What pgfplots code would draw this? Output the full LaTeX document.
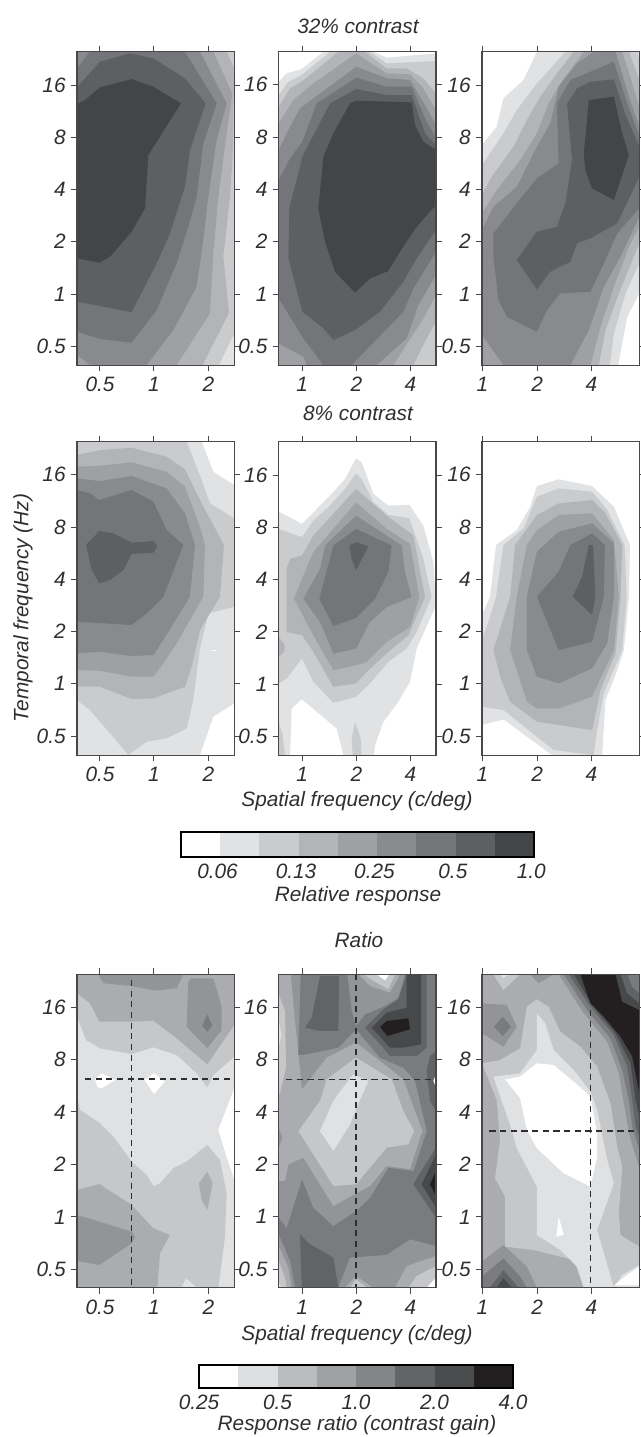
\documentclass[border=0pt]{standalone}
\usepackage{fontspec}
\setmainfont{Liberation Sans}
\usepackage{pgfplots}
\pgfplotsset{compat=1.18}
\definecolor{A1}{HTML}{FFFFFF}\definecolor{A2}{HTML}{E1E2E4}\definecolor{A3}{HTML}{CACBCD}
\definecolor{A4}{HTML}{B2B4B7}\definecolor{A5}{HTML}{9FA0A3}\definecolor{A6}{HTML}{898A8D}
\definecolor{A7}{HTML}{747578}\definecolor{A8}{HTML}{5E5F61}\definecolor{A9}{HTML}{444547}
\definecolor{R2}{HTML}{E0E1E3}\definecolor{R3}{HTML}{C6C7C9}\definecolor{R4}{HTML}{ABACAF}
\definecolor{R5}{HTML}{939497}\definecolor{R6}{HTML}{7A7B7E}\definecolor{R7}{HTML}{626365}
\definecolor{R8}{HTML}{47484A}\definecolor{R9}{HTML}{231F20}
\definecolor{B2}{HTML}{DDDEDF}\definecolor{B3}{HTML}{BBBCBF}\definecolor{B4}{HTML}{9FA1A4}
\definecolor{B5}{HTML}{838588}\definecolor{B6}{HTML}{636467}\definecolor{B7}{HTML}{4A4C4E}
\definecolor{ink}{HTML}{2E2E30}\definecolor{frame}{HTML}{48484A}
\newcommand{\F}[2]{\addplot[fill=#1,draw=none,forget plot] coordinates {#2} --cycle;}
\newcommand{\D}[1]{\addplot[ink,line width=0.9pt,dash pattern=on 4.6pt off 3.4pt,forget plot] coordinates {#1};}
\newcommand{\tf}{\itshape\fontsize{15.6}{18}\selectfont}
\pgfplotsset{
 pos/.style 2 args={at={({#1*0.75pt},{-#2*0.75pt})},anchor=north west},
 pan/.style={scale only axis,width=117.98pt,height=235pt,y dir=reverse,axis on top,
  tick align=outside,major tick length=4.5pt,
  xticklabel pos=lower,yticklabel pos=left,
  tick style={frame,line width=0.75pt},
  axis line style={frame,line width=0.8pt},
  tick label style={font=\tf,text=ink},
  yticklabels={16,8,4,2,1,0.5},
  yticklabel style={xshift=-0.5pt},
  xticklabel style={yshift=-1pt}},
 c1/.style={xmin=231,xmax=703,xtick={300,462,625},xticklabels={0.5,1,2}},
 c2/.style={xmin=26,xmax=498,xtick={96,259,421},xticklabels={1,2,4}},
 c3/.style={xmin=486,xmax=956,xtick={487,651,813},xticklabels={1,2,4}},
}
\begin{document}
\begin{tikzpicture}
\path[use as bounding box] (0,0) rectangle (480.75pt,-1077.75pt);
% ---------- row 1
\begin{axis}[pan,c1,pos={77}{51.7},ymin=155,ymax=1095,ytick={255,411,568,725,883,1040}]
\F{A2}{(231,155)(703,155)(703,1095)(231,1095)}
\F{A3}{(231,155)(703,155)(703,1000)(657,1095)(231,1095)}
\F{A4}{(231,155)(680,155)(703,205)(698,470)(690,590)(670,770)(687,938)(608,1095)(231,1095)}
\F{A5}{(231,155)(640,155)(697,280)(680,400)(655,590)(640,760)(630,940)(530,1095)(231,1095)}
\F{A6}{(231,155)(600,155)(680,310)(650,420)(625,590)(610,720)(590,860)(520,990)(440,1095)(270,1095)(231,1065)}
\F{A7}{(231,205)(270,155)(555,155)(650,310)(610,430)(590,590)(565,680)(530,790)(470,930)(395,1028)(300,1017)(231,995)}
\F{A8}{(231,262)(300,185)(390,160)(460,175)(555,235)(617,310)(570,450)(555,560)(510,700)(470,790)(395,936)(300,918)(231,905)}
\F{A9}{(231,312)(255,300)(300,262)(395,237)(460,260)(543,310)(445,465)(435,625)(395,695)(330,770)(298,788)(231,775)}
\end{axis}
\begin{axis}[pan,c2,pos={278.7}{51.7},ymin=20,ymax=960,ytick={119,276,433,590,747,905}]
\F{A1}{(26,20)(498,20)(498,960)(26,960)}
\F{A2}{(26,110)(50,85)(95,72)(160,20)(310,20)(350,38)(498,25)(498,960)(26,960)}
\F{A3}{(26,150)(55,110)(95,90)(180,20)(300,20)(350,55)(498,48)(498,960)(26,960)}
\F{A4}{(26,185)(60,130)(95,110)(205,20)(285,20)(350,70)(410,70)(460,100)(498,145)(498,830)(470,880)(430,960)(26,960)}
\F{A5}{(26,235)(70,165)(130,115)(259,25)(350,85)(420,88)(460,130)(498,195)(498,750)(460,820)(370,960)(26,960)}
\F{A6}{(26,315)(50,265)(90,190)(259,65)(350,100)(420,105)(465,180)(498,240)(498,690)(445,780)(410,880)(320,960)(110,960)(100,935)(26,895)}
\F{A7}{(26,405)(60,340)(97,290)(140,175)(259,98)(350,125)(425,125)(465,220)(498,280)(498,620)(430,730)(400,800)(245,960)(160,960)(100,880)(26,760)}
\F{A8}{(58,490)(97,335)(180,175)(259,132)(350,150)(425,150)(465,265)(498,300)(498,555)(440,640)(400,710)(330,800)(255,855)(190,885)(160,850)(97,800)(55,640)}
\F{A9}{(145,490)(160,335)(190,265)(240,175)(259,167)(425,172)(435,240)(460,290)(498,315)(498,480)(440,545)(390,620)(355,678)(300,700)(255,743)(195,680)(165,590)}
\end{axis}
\begin{axis}[pan,c3,pos={482}{51.7},ymin=155,ymax=1095,ytick={255,411,568,725,883,1040}]
\F{A1}{(486,155)(956,155)(956,1095)(486,1095)}
\F{A2}{(486,435)(530,380)(550,295)(610,240)(650,155)(956,155)(956,880)(920,950)(893,1095)(486,1095)}
\F{A3}{(486,495)(550,400)(590,330)(650,250)(700,195)(735,155)(950,155)(956,180)(956,790)(915,880)(880,1000)(868,1095)(486,1095)}
\F{A4}{(486,585)(515,530)(580,440)(620,360)(660,290)(710,220)(760,155)(925,155)(956,240)(956,730)(895,880)(855,990)(835,1095)(486,1095)}
\F{A5}{(486,640)(530,570)(600,480)(650,400)(685,310)(720,250)(790,155)(905,155)(935,250)(956,320)(956,680)(925,740)(880,860)(840,980)(810,1095)(486,1095)}
\F{A6}{(486,690)(520,620)(590,560)(650,440)(690,370)(715,260)(770,190)(820,155)(885,155)(925,290)(956,380)(956,650)(900,770)(850,860)(805,990)(750,1095)(550,1095)(486,1005)}
\F{A7}{(520,700)(590,610)(650,535)(715,490)(710,310)(750,240)(810,215)(880,185)(920,310)(956,410)(956,625)(890,700)(850,790)(810,875)(720,880)(680,930)(650,995)(560,950)(535,900)(520,770)}
\F{A8}{(590,780)(650,695)(710,680)(735,610)(755,480)(740,310)(770,265)(810,245)(880,238)(915,345)(956,440)(956,530)(890,670)(810,715)(770,730)(750,785)(690,815)(650,868)}
\F{A9}{(790,465)(805,300)(880,290)(905,400)(925,465)(880,600)(815,565)(795,510)}
\end{axis}
% ---------- row 2
\begin{axis}[pan,c1,pos={77}{441.7},ymin=125,ymax=1065,ytick={224,381,537,694,851,1008}]
\F{A1}{(231,125)(703,125)(703,1065)(231,1065)}
\F{A2}{(231,125)(605,125)(640,215)(703,255)(703,910)(640,950)(600,1065)(231,1065)}
\F{A3}{(231,125)(560,125)(605,240)(630,310)(703,355)(703,620)(625,640)(600,745)(580,900)(560,985)(500,1015)(440,1025)(385,1065)(330,1000)(270,930)(231,900)}
\F{A4}{(231,165)(300,150)(395,143)(500,170)(555,208)(605,310)(672,435)(660,590)(600,690)(575,800)(555,860)(460,895)(395,897)(300,860)(231,860)}
\F{A5}{(231,200)(300,197)(395,187)(500,215)(555,260)(600,380)(615,435)(610,590)(530,730)(490,790)(460,830)(395,830)(300,812)(231,810)}
\F{A6}{(231,235)(300,243)(395,228)(500,265)(555,340)(585,435)(570,590)(490,720)(460,765)(395,768)(300,755)(231,760)}
\F{A7}{(231,270)(270,280)(298,300)(395,270)(460,305)(500,390)(550,435)(490,590)(440,640)(395,675)(231,665)}
\F{A8}{(258,435)(298,393)(340,400)(395,428)(460,423)(472,437)(460,458)(395,462)(370,510)(330,540)(298,550)(275,510)}
\F{A1}{(636,750)(648,750)(648,752)(636,752)}
\end{axis}
\begin{axis}[pan,c2,pos={278.7}{441.7},ymin=18,ymax=960,ytick={119,276,433,590,747,905}]
\F{A2}{(26,228)(96,265)(175,185)(225,130)(258,68)(275,80)(310,175)(355,210)(418,208)(460,270)(490,380)(498,510)(440,640)(420,740)(385,800)(340,860)(315,930)(312,960)(220,960)(200,880)(95,792)(65,820)(60,960)(26,960)}
\F{A3}{(26,280)(96,305)(130,255)(175,215)(225,160)(258,113)(275,130)(310,200)(355,238)(418,248)(460,370)(485,485)(440,590)(410,640)(355,680)(300,745)(258,785)(190,803)(130,740)(96,670)(50,730)(26,745)}
\F{A3}{(26,860)(38,900)(45,960)(26,960)}
\F{A3}{(255,860)(272,910)(275,960)(248,960)(245,910)}
\F{A4}{(50,400)(60,370)(96,360)(130,300)(258,160)(350,240)(430,300)(465,485)(415,600)(355,650)(290,710)(258,745)(190,755)(130,650)(96,600)(50,590)}
\F{A4}{(26,605)(45,630)(42,650)(26,665)}
\F{A5}{(72,490)(100,420)(130,350)(258,200)(350,280)(420,325)(448,485)(420,575)(350,620)(290,680)(258,690)(190,705)(130,600)}
\F{A6}{(100,490)(150,400)(165,330)(258,240)(395,330)(405,410)(425,485)(350,515)(300,560)(258,640)(190,655)(150,560)}
\F{A7}{(148,490)(190,330)(258,280)(365,330)(355,410)(315,490)(258,548)(190,572)}
\F{A8}{(238,330)(258,320)(295,332)(258,405)(245,370)}
\end{axis}
\begin{axis}[pan,c3,pos={482}{441.7},ymin=125,ymax=1065,ytick={224,381,537,694,851,1008}]
\F{A1}{(486,125)(956,125)(956,1065)(486,1065)}
\F{A2}{(486,645)(510,590)(528,435)(590,390)(630,320)(650,258)(715,238)(815,258)(880,320)(928,435)(925,590)(910,750)(885,825)(855,900)(845,1065)(695,1065)(550,958)(486,975)}
\F{A3}{(486,720)(510,650)(528,590)(550,435)(610,385)(650,290)(715,265)(815,275)(860,330)(912,435)(918,590)(905,750)(850,880)(830,990)(820,1065)(700,1050)(550,930)(486,920)}
\F{A4}{(520,750)(570,590)(585,435)(650,345)(715,310)(815,300)(855,340)(905,435)(900,590)(885,760)(840,870)(815,990)(650,965)(570,905)(540,830)}
\F{A5}{(570,750)(590,590)(620,435)(650,390)(715,345)(815,340)(880,420)(895,590)(880,750)(815,890)(715,925)(650,925)(620,905)}
\F{A6}{(620,750)(620,590)(650,455)(715,395)(815,370)(880,430)(880,590)(860,730)(815,805)(715,850)(650,830)}
\F{A7}{(650,590)(715,515)(750,435)(815,400)(853,435)(850,590)(815,725)(715,750)}
\F{A8}{(757,590)(785,530)(800,460)(805,435)(818,435)(825,590)(815,645)}
\end{axis}
% ---------- row 3
\begin{axis}[pan,c1,pos={77}{974.3},ymin=43,ymax=983,ytick={143,299,456,613,771,928}]
\F{R2}{(231,43)(703,43)(703,983)(231,983)}
\F{white}{(285,358)(305,340)(345,360)(305,385)(293,382)}
\F{white}{(433,360)(462,340)(495,365)(462,402)}
\F{white}{(655,510)(703,385)(703,660)(680,590)}
\F{R3}{(231,170)(258,240)(300,265)(395,282)(460,262)(530,285)(590,340)(622,382)(640,345)(703,290)(703,43)(231,43)}
\F{R4}{(231,100)(270,130)(298,185)(395,185)(460,182)(530,235)(622,313)(703,195)(703,43)(231,43)}
\F{R5}{(295,43)(310,70)(395,78)(465,92)(530,85)(550,43)}
\F{R5}{(565,65)(560,200)(622,265)(665,210)(665,140)(640,55)(575,55)}
\F{R6}{(622,163)(637,197)(622,215)(607,197)}
\F{R3}{(231,405)(240,450)(300,490)(340,530)(395,605)(440,645)(460,678)(480,670)(520,625)(560,605)(622,555)(660,600)(680,700)(675,830)(655,983)(231,983)}
\F{R2}{(545,983)(558,955)(590,983)}
\F{R4}{(231,690)(298,672)(395,735)(460,805)(510,825)(480,880)(472,983)(231,983)}
\F{R4}{(597,670)(622,635)(638,670)(622,750)(605,720)}
\F{R5}{(231,765)(298,785)(395,815)(405,830)(395,850)(298,915)(231,903)}
\D{(395,60)(395,983)}
\D{(255,357)(703,357)}
\end{axis}
\begin{axis}[pan,c2,pos={278.7}{974.3},ymin=20,ymax=960,ytick={119,276,433,590,747,905}]
\F{R6}{(26,20)(498,20)(498,960)(26,960)}
\F{R5}{(26,20)(105,20)(85,262)(170,215)(258,180)(330,270)(400,300)(435,340)(470,490)(430,610)(355,600)(300,690)(258,730)(190,775)(130,720)(96,635)(50,780)(26,750)}
\F{R4}{(26,20)(62,20)(72,130)(96,365)(170,270)(258,225)(330,280)(400,335)(457,490)(420,605)(350,595)(300,655)(190,715)(100,570)(55,590)(45,640)(26,640)}
\F{R5}{(26,480)(37,510)(26,540)}
\F{R3}{(26,80)(45,130)(48,300)(30,375)(26,385)}
\F{R2}{(26,160)(34,200)(26,240)}
\F{R3}{(85,490)(150,400)(170,335)(258,270)(365,335)(400,430)(432,490)(415,530)(350,540)(258,650)(190,655)}
\F{R2}{(150,490)(190,400)(215,365)(250,320)(295,340)(260,420)(240,470)(190,550)}
\F{R6}{(92,20)(232,20)(245,130)(258,185)(205,240)(100,262)(85,262)}
\F{R7}{(150,25)(207,25)(205,190)(150,190)(105,180)(125,150)}
\F{R5}{(232,20)(245,130)(258,175)(285,140)(345,115)(385,90)(405,20)}
\F{R4}{(265,20)(300,55)(360,75)(390,20)}
\F{R3}{(280,20)(320,45)(355,65)(375,20)}
\F{white}{(320,20)(345,38)(358,20)}
\F{R6}{(258,185)(330,270)(400,300)(435,310)(470,255)(498,250)(498,20)(405,20)(385,95)(340,125)(285,140)}
\F{R7}{(285,180)(340,125)(385,95)(410,20)(470,20)(470,240)(440,265)(360,265)(330,230)}
\F{R8}{(305,180)(350,135)(410,120)(410,20)(453,20)(453,230)(400,240)(360,240)}
\F{R9}{(330,178)(350,160)(415,152)(420,185)(352,205)}
\F{R7}{(498,250)(480,265)(470,310)(480,400)(498,430)}
\F{white}{(498,320)(490,340)(498,360)}
\F{R7}{(498,540)(460,600)(430,650)(498,750)}
\F{R8}{(498,560)(455,650)(498,720)}
\F{R9}{(498,610)(480,650)(498,685)}
\F{R7}{(90,800)(120,830)(190,870)(205,960)(95,960)}
\F{R5}{(26,800)(60,880)(75,960)(26,960)}
\F{R4}{(26,835)(55,900)(65,960)(26,960)}
\F{R3}{(26,880)(45,930)(50,960)(26,960)}
\F{R2}{(26,945)(35,960)(26,960)}
\F{R5}{(205,960)(240,870)(350,862)(420,815)(498,835)(498,960)}
\F{R4}{(225,960)(258,925)(310,960)}
\F{R3}{(240,960)(258,935)(290,960)}
\F{R4}{(375,960)(410,895)(498,865)(498,960)}
\F{R3}{(415,960)(440,925)(498,895)(498,960)}
\F{white}{(470,960)(498,930)(498,960)}
\D{(258,20)(258,960)}
\D{(48,336)(498,336)}
\end{axis}
\begin{axis}[pan,c3,pos={482}{974.3},ymin=43,ymax=983,ytick={143,299,456,613,771,928}]
\F{R4}{(486,43)(956,43)(956,983)(486,983)}
\F{R3}{(486,310)(540,300)(600,265)(620,140)(650,118)(685,140)(720,215)(780,260)(830,320)(870,430)(890,560)(905,620)(895,760)(900,825)(956,860)(956,983)(790,983)(760,900)(640,870)(555,860)(555,710)(525,655)(540,540)(530,420)}
\F{R2}{(520,350)(600,340)(650,270)(650,160)(675,190)(700,270)(760,330)(810,395)(830,450)(860,600)(880,670)(830,810)(880,983)(790,983)(770,920)(720,870)(650,825)(650,680)(590,565)(575,510)}
\F{R2}{(880,983)(905,945)(956,915)(956,983)}
\F{white}{(555,358)(600,350)(650,310)(700,315)(760,365)(810,410)(830,520)(830,590)(810,680)(730,640)(650,565)(620,510)(600,415)}
\F{white}{(715,770)(730,825)(708,830)}
\F{white}{(880,976)(920,945)(956,920)(956,976)}
\F{R3}{(520,43)(550,90)(600,43)}
\F{R2}{(540,43)(550,55)(565,43)}
\F{R5}{(630,43)(655,70)(700,43)}
\F{R5}{(486,130)(560,135)(590,200)(550,260)(486,220)}
\F{R6}{(522,200)(548,170)(573,200)(548,228)}
\F{R5}{(486,905)(550,855)(620,920)(650,983)(486,983)}
\F{R6}{(486,950)(550,895)(600,950)(620,983)(486,983)}
\F{R7}{(510,983)(550,930)(595,983)}
\F{R8}{(530,983)(550,955)(575,983)}
\F{R5}{(715,43)(790,160)(860,245)(895,340)(910,430)(925,520)(956,625)(956,43)}
\F{R6}{(730,43)(800,150)(870,235)(905,330)(925,420)(935,500)(956,570)(956,43)}
\F{R7}{(745,43)(810,140)(880,225)(920,320)(935,420)(945,500)(956,530)(956,43)}
\F{R8}{(760,43)(815,135)(885,220)(930,310)(945,420)(956,470)(956,43)}
\F{R9}{(780,43)(810,130)(850,170)(900,230)(935,290)(956,400)(956,43)}
\F{R8}{(885,43)(905,125)(956,150)(956,43)}
\F{R7}{(900,43)(920,100)(956,130)(956,43)}
\F{R6}{(920,43)(935,80)(956,100)(956,43)}
\D{(811,150)(811,983)}
\D{(508,513)(956,513)}
\end{axis}
% ---------- colour bars
\begin{axis}[scale only axis,width=264.75pt,height=18.75pt,pos={181}{832},xmin=0,xmax=9,ymin=0,ymax=1,ytick=\empty,
 xtick={1,3,5,7,9},xticklabels={0.06,0.13,0.25,0.5,1.0},major tick length=0pt,
 tick label style={font=\tf,text=ink},axis on top,axis line style={black,line width=1.2pt},xticklabel style={yshift=-2pt,xshift=-2pt}]
\F{A2}{(1,0)(2,0)(2,1)(1,1)}\F{A3}{(2,0)(3,0)(3,1)(2,1)}\F{A4}{(3,0)(4,0)(4,1)(3,1)}\F{A5}{(4,0)(5,0)(5,1)(4,1)}
\F{A6}{(5,0)(6,0)(6,1)(5,1)}\F{A7}{(6,0)(7,0)(7,1)(6,1)}\F{A8}{(7,0)(8,0)(8,1)(7,1)}\F{A9}{(8,0)(9,0)(9,1)(8,1)}
\end{axis}
\begin{axis}[scale only axis,width=235.5pt,height=17.25pt,pos={199}{1365},xmin=0,xmax=8,ymin=0,ymax=1,ytick=\empty,
 xtick={0,2,4,6,8},xticklabels={0.25,0.5,1.0,2.0,4.0},major tick length=0pt,
 tick label style={font=\tf,text=ink},axis on top,axis line style={black,line width=1.2pt},xticklabel style={yshift=-1.5pt}]
\F{B2}{(1,0)(2,0)(2,1)(1,1)}\F{B3}{(2,0)(3,0)(3,1)(2,1)}\F{B4}{(3,0)(4,0)(4,1)(3,1)}\F{B5}{(4,0)(5,0)(5,1)(4,1)}
\F{B6}{(5,0)(6,0)(6,1)(5,1)}\F{B7}{(6,0)(7,0)(7,1)(6,1)}\F{R9}{(7,0)(8,0)(8,1)(7,1)}
\end{axis}
% ---------- text
\begin{scope}[every node/.style={text=ink,font=\tf,inner sep=0pt}]
\node at ({358*0.75pt},{-26*0.75pt}) {32\% contrast};
\node at ({358*0.75pt},{-413*0.75pt}) {8\% contrast};
\node at ({359*0.75pt},{-940*0.75pt}) {Ratio};
\node at ({357*0.75pt},{-801*0.75pt}) {Spatial frequency (c/deg)};
\node at ({357*0.75pt},{-1335*0.75pt}) {Spatial frequency (c/deg)};
\node[rotate=90] at ({23*0.75pt},{-608*0.75pt}) {Temporal frequency (Hz)};
\node at ({358*0.75pt},{-896*0.75pt}) {Relative response};
\node at ({357*0.75pt},{-1425*0.75pt}) {Response ratio (contrast gain)};
\end{scope}
\end{tikzpicture}
\end{document}
